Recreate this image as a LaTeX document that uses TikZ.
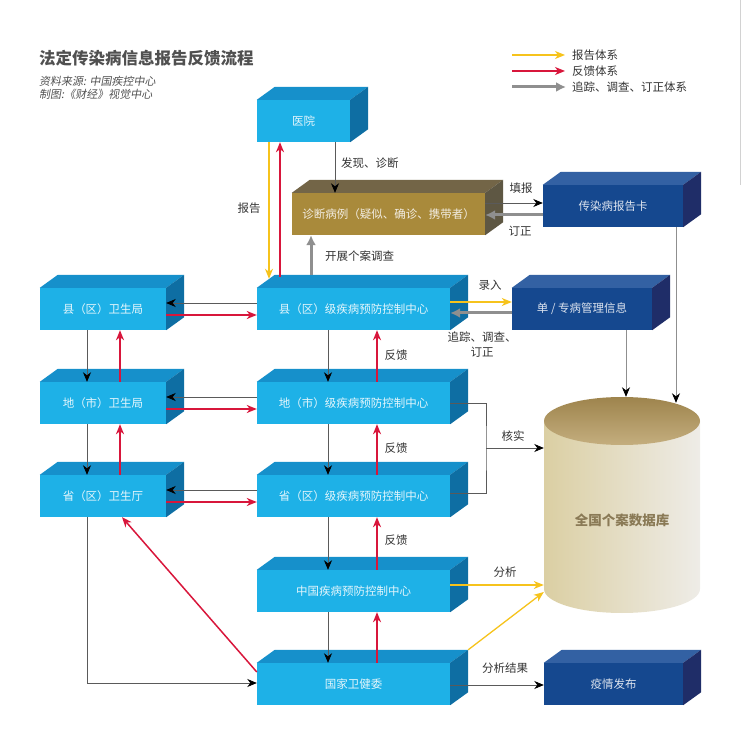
\documentclass[tikz,border=0pt]{standalone}
\usepackage{fontspec}
\newfontfamily\cjk{Noto Sans CJK SC}
\newfontfamily\cjkit{Noto Sans CJK SC}[FakeSlant=0.18]
\usepackage{tikz}
\usetikzlibrary{calc}
\usetikzlibrary{arrows.meta}

\definecolor{boxfront}{HTML}{1EB1E7}
\definecolor{boxtop}{HTML}{1690CB}
\definecolor{boxside}{HTML}{0E6EA3}
\definecolor{navyfront}{HTML}{15488F}
\definecolor{navytop}{HTML}{3361A3}
\definecolor{navyside}{HTML}{1F2D68}
\definecolor{brownfront}{HTML}{A98A3B}
\definecolor{browntop}{HTML}{736547}
\definecolor{brownside}{HTML}{5E5743}
\definecolor{repcol}{HTML}{F6C31C}
\definecolor{fbcol}{HTML}{D8163B}
\definecolor{trkcol}{HTML}{8F8F8F}
\definecolor{lnkcol}{HTML}{5A5A5A}
\definecolor{labcol}{HTML}{333333}
\definecolor{titlecol}{HTML}{505050}
\definecolor{cylL}{HTML}{DBCFA3}
\definecolor{cylM}{HTML}{C3B48F}
\definecolor{cylR}{HTML}{EEECE7}
\definecolor{cylA}{HTML}{9E844D}
\definecolor{cylB}{HTML}{C4AE7E}
\definecolor{dbtxt}{HTML}{8A7A56}

\tikzset{
  cube/.style={rectangle, inner sep=0pt, minimum height=42pt,
    font=\cjk\fontsize{11.5}{13}\selectfont},
  lbox/.style={cube, fill=boxfront, text=white!88!boxfront},
  nbox/.style={cube, fill=navyfront, text=white!85!navyfront},
  bbox/.style={cube, fill=brownfront, text=white!85!brownfront},
  lab/.style={text=labcol, inner sep=1pt, font=\cjk\fontsize{11.5}{15}\selectfont},
  lnk/.style={draw=lnkcol, line width=0.8pt,
    -{Stealth[length=9.5pt,width=8pt,inset=3pt,color=black]}},
  rep/.style={draw=repcol, line width=1.3pt, -{Stealth[length=10pt,width=8pt,inset=3pt]}},
  fb/.style={draw=fbcol, line width=1.5pt, -{Stealth[length=10pt,width=8pt,inset=3pt]}},
  trk/.style={draw=trkcol, line width=3pt, -{Latex[length=10pt,width=10pt]}},
}

% top and side faces of a box node: name, top colour, side colour
\newcommand{\boxfaces}[3]{%
  \fill[#2] (#1.north west) -- ++(\depx,-\depy) -- ($(#1.north east)+(\depx,-\depy)$) -- (#1.north east) -- cycle;
  \fill[#3] (#1.north east) -- ++(\depx,-\depy) -- ($(#1.south east)+(\depx,-\depy)$) -- (#1.south east) -- cycle;}

\begin{document}
\begin{tikzpicture}[x=1pt,y=-1pt]
% box depth
\def\depx{18}
\def\depy{13}
\useasboundingbox (0,0) rectangle (745,735);
\draw[gray!35] (740,0) -- (740,185);
% Title and source
\node[anchor=west, inner sep=0, text=titlecol, font=\cjk\bfseries\fontsize{16.5}{18}\selectfont] (title) at (39,58) {法定传染病信息报告反馈流程};
\node[anchor=west, inner sep=0, text=titlecol, font=\cjkit\fontsize{11}{12}\selectfont] (src) at (39,81) {资料来源: 中国疾控中心};
\node[anchor=west, inner sep=0, text=titlecol, font=\cjkit\fontsize{11}{12}\selectfont] (mk) at (39,94) {制图:《财经》视觉中心};
% Legend
\node[lab, anchor=west] (lg1) at (571,55) {报告体系};
\node[lab, anchor=west] (lg2) at (571,71) {反馈体系};
\node[lab, anchor=west] (lg3) at (571,87) {追踪、调查、订正体系};
\draw[rep] ([xshift=-59pt]lg1.west) -- ([xshift=-6pt]lg1.west);
\draw[fb] ([xshift=-59pt]lg2.west) -- ([xshift=-6pt]lg2.west);
\draw[trk] ([xshift=-59pt]lg3.west) -- ([xshift=-5pt]lg3.west);
% Top row
\node[lbox, minimum width=93pt] (hosp) at (303.5,121) {医院};
\node[bbox, minimum width=193pt] (diag) at (388.5,214) {诊断病例（疑似、确诊、携带者）};
\node[nbox, minimum width=140pt] (card) at (613,206) {传染病报告卡};
% Health bureaus
\node[lbox, minimum width=126pt] (xws) at (103,309) {县（区）卫生局};
\node[lbox, minimum width=126pt] (dws) at (103,403) {地（市）卫生局};
\node[lbox, minimum width=126pt] (sws) at (103,496) {省（区）卫生厅};
% CDC levels
\node[lbox, minimum width=193pt] (xjk) at (353.5,309) {县（区）级疾病预防控制中心};
\node[lbox, minimum width=193pt] (djk) at (353.5,403) {地（市）级疾病预防控制中心};
\node[lbox, minimum width=193pt] (sjk) at (353.5,496) {省（区）级疾病预防控制中心};
\node[lbox, minimum width=193pt] (zgjk) at (353.5,591) {中国疾病预防控制中心};
\node[lbox, minimum width=193pt] (wjw) at (353.5,684) {国家卫健委};
% Right side
\node[nbox, minimum width=140pt] (dzb) at (582,309) {单 / 专病管理信息};
\node[nbox, minimum width=139pt] (yqfb) at (613.5,684) {疫情发布};
% 3D faces
\boxfaces{hosp}{boxtop}{boxside}
\boxfaces{diag}{browntop}{brownside}
\boxfaces{card}{navytop}{navyside}
\boxfaces{xws}{boxtop}{boxside}
\boxfaces{dws}{boxtop}{boxside}
\boxfaces{sws}{boxtop}{boxside}
\boxfaces{xjk}{boxtop}{boxside}
\boxfaces{djk}{boxtop}{boxside}
\boxfaces{sjk}{boxtop}{boxside}
\boxfaces{zgjk}{boxtop}{boxside}
\boxfaces{wjw}{boxtop}{boxside}
\boxfaces{dzb}{navytop}{navyside}
\boxfaces{yqfb}{navytop}{navyside}
% Database cylinder
\node[inner sep=0, minimum width=156pt, minimum height=216pt] (db) at (622,505) {};
\shade[left color=cylL, middle color=cylM, right color=cylR] (544,421) -- (544,589) arc[start angle=180, end angle=0, x radius=78, y radius=24] -- (700,421) -- cycle;
\shade[top color=cylA, bottom color=cylB] (622,421) ellipse[x radius=78, y radius=24];
\node[text=dbtxt, font=\cjk\bfseries\fontsize{13.5}{15}\selectfont] (dbtext) at (622,520) {全国个案数据库};
% Hospital and diagnosed cases
\draw[lnk] ([xshift=31.5pt]hosp.south) -- ([xshift=-53.5pt]diag.north);
\node[lab, anchor=west] (l1) at (340,163) {发现、诊断};
\draw[rep] ([xshift=-34.5pt]hosp.south) -- ([xshift=-84.5pt,yshift=9pt]xjk.north);
\draw[fb] ([xshift=-73.5pt,yshift=11pt]xjk.north) -- ([xshift=-23.5pt]hosp.south);
\node[lab] (l2) at (249,208) {报告};
\draw[trk] ([xshift=-42.5pt,yshift=13pt]xjk.north) -- ([xshift=-77.5pt]diag.south);
\node[lab, anchor=west] (l3) at (324,256) {开展个案调查};
\draw[lnk] ([yshift=11pt]diag.east) -- ([yshift=11pt]diag.east -| card.west);
\node[lab] (l4) at (521,188) {填报};
\draw[trk] ([yshift=-9pt]card.west) -- ([yshift=-9pt]card.west -| diag.east);
\node[lab] (l5) at (520,231) {订正};
% County CDC and management info
\draw[rep] ([yshift=7pt]xjk.east) -- ([yshift=7pt]xjk.east -| dzb.west);
\node[lab] (l6) at (490,285) {录入};
\draw[trk] ([yshift=-4pt]dzb.west) -- ([yshift=-4pt]dzb.west -| xjk.east);
\node[lab, align=center] (l7) at (482,345) {追踪、调查、\\订正};
% Into the database
\draw[lnk, draw=trkcol] ([xshift=44pt]dzb.south) -- ([xshift=4pt]db.north);
\draw[lnk, draw=trkcol] ([xshift=63pt]card.south) -- ([xshift=54pt,yshift=-6pt]db.north);
% Health bureaus chain
\draw[lnk] ([xshift=-16pt]xws.south) -- ([xshift=-16pt]dws.north);
\draw[fb] ([xshift=17pt]dws.north) -- ([xshift=17pt]xws.south);
\draw[lnk] ([xshift=-16pt]dws.south) -- ([xshift=-16pt]sws.north);
\draw[fb] ([xshift=17pt]sws.north) -- ([xshift=17pt]dws.south);
% CDC to bureau, same level
\draw[lnk] ([yshift=6pt]xjk.west) -- ([yshift=6pt]xjk.west -| xws.east);
\draw[fb] ([yshift=-6pt]xws.east) -- ([yshift=-6pt]xws.east -| xjk.west);
\draw[lnk] ([yshift=6pt]djk.west) -- ([yshift=6pt]djk.west -| dws.east);
\draw[fb] ([yshift=-6pt]dws.east) -- ([yshift=-6pt]dws.east -| djk.west);
\draw[lnk] ([yshift=6pt]sjk.west) -- ([yshift=6pt]sjk.west -| sws.east);
\draw[fb] ([yshift=-6pt]sws.east) -- ([yshift=-6pt]sws.east -| sjk.west);
% CDC chain with feedback
\draw[lnk] ([xshift=-25.5pt]xjk.south) -- ([xshift=-25.5pt]djk.north);
\draw[fb] ([xshift=23.5pt]djk.north) -- ([xshift=23.5pt]xjk.south);
\node[lab] (f1) at (396,355) {反馈};
\draw[lnk] ([xshift=-25.5pt]djk.south) -- ([xshift=-25.5pt]sjk.north);
\draw[fb] ([xshift=23.5pt]sjk.north) -- ([xshift=23.5pt]djk.south);
\node[lab] (f2) at (396,448) {反馈};
\draw[lnk] ([xshift=-25.5pt]sjk.south) -- ([xshift=-25.5pt]zgjk.north);
\draw[fb] ([xshift=23.5pt]zgjk.north) -- ([xshift=23.5pt]sjk.south);
\node[lab] (f3) at (396,540) {反馈};
\draw[lnk] ([xshift=-25.5pt]zgjk.south) -- ([xshift=-25.5pt]wjw.north);
\draw[fb] ([xshift=23.5pt]wjw.north) -- ([xshift=23.5pt]zgjk.south);
% Verification
\coordinate (hs) at (486,448);
\draw[draw=lnkcol, line width=0.8pt] (djk.east) -| (hs) |- ([yshift=3pt]sjk.east);
\draw[lnk] (hs) -- (hs -| db.west);
\node[lab] (l8) at (513,436) {核实};
% Analysis
\draw[rep] ([yshift=6pt]zgjk.east) -- ([yshift=6pt]zgjk.east -| db.west);
\node[lab] (l9) at (505,572) {分析};
\draw[rep] ($(wjw.north east)+(\depx,-\depy)$) -- ([yshift=-87pt]db.west);
\draw[lnk] ([yshift=-1pt]wjw.east) -- ([yshift=-1pt]wjw.east -| yqfb.west);
\node[lab] (l10) at (505,668) {分析结果};
% Province bureau and national commission
\draw[lnk] ([xshift=-16pt]sws.south) |- ([yshift=1pt]wjw.west);
\draw[fb] ([yshift=12pt]wjw.west) -- ([xshift=19pt]sws.south);
\end{tikzpicture}
\end{document}
